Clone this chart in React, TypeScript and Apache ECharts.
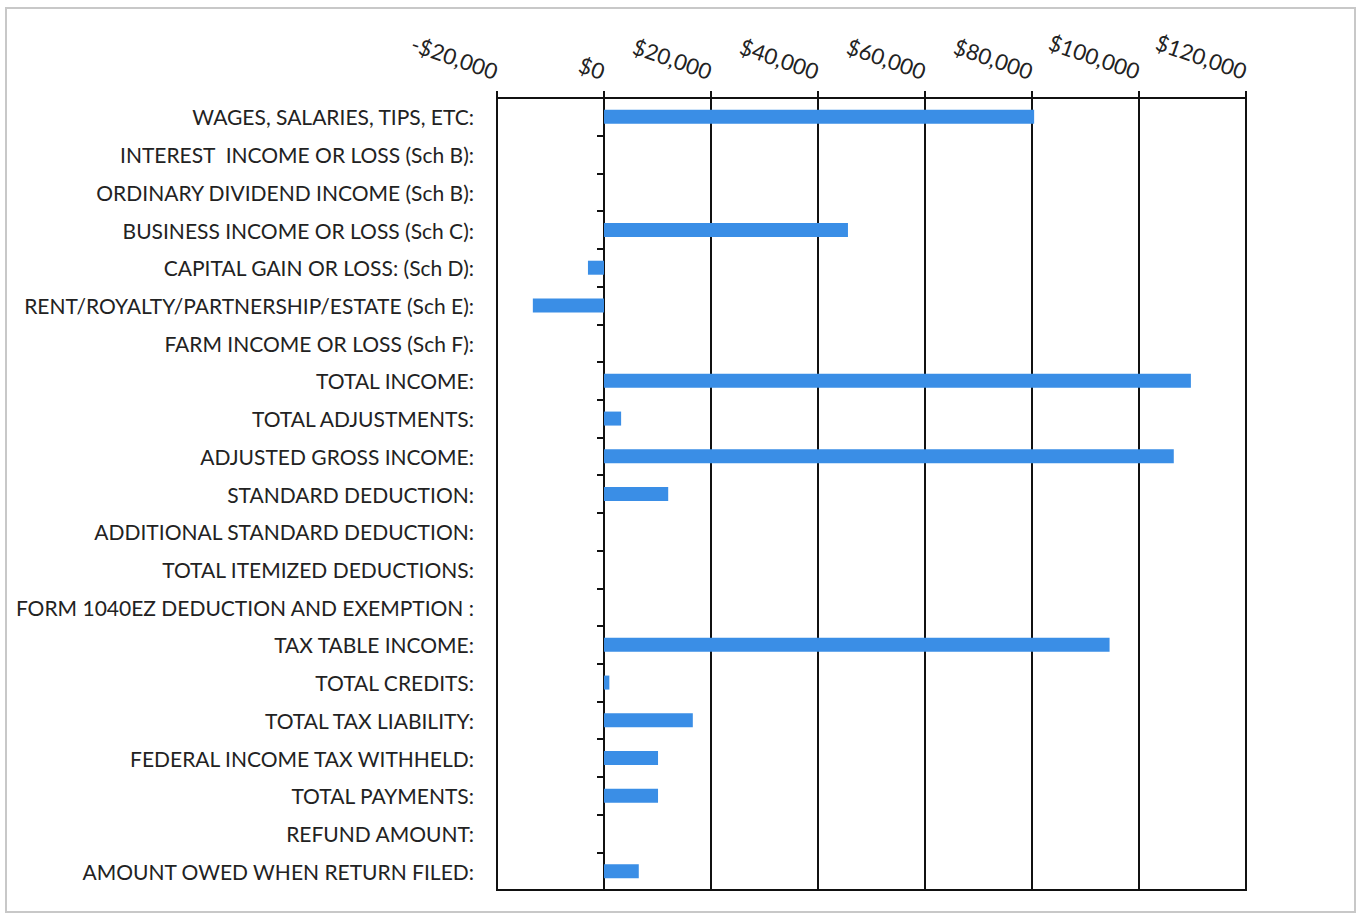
import React, { useEffect, useRef } from "react";
import * as echarts from "echarts";

const categories = [
  "WAGES, SALARIES, TIPS, ETC:",
  "INTEREST  INCOME OR LOSS (Sch B):",
  "ORDINARY DIVIDEND INCOME (Sch B):",
  "BUSINESS INCOME OR LOSS (Sch C):",
  "CAPITAL GAIN OR LOSS: (Sch D):",
  "RENT/ROYALTY/PARTNERSHIP/ESTATE (Sch E):",
  "FARM INCOME OR LOSS (Sch F):",
  "TOTAL INCOME:",
  "TOTAL ADJUSTMENTS:",
  "ADJUSTED GROSS INCOME:",
  "STANDARD DEDUCTION:",
  "ADDITIONAL STANDARD DEDUCTION:",
  "TOTAL ITEMIZED DEDUCTIONS:",
  "FORM 1040EZ DEDUCTION AND EXEMPTION :",
  "TAX TABLE INCOME:",
  "TOTAL CREDITS:",
  "TOTAL TAX LIABILITY:",
  "FEDERAL INCOME TAX WITHHELD:",
  "TOTAL PAYMENTS:",
  "REFUND AMOUNT:",
  "AMOUNT OWED WHEN RETURN FILED:",
];

const values = [
  80400, 0, 0, 45600, -3000, -13300, 0, 109700, 3200, 106500, 12000, 0, 0, 0,
  94500, 1000, 16600, 10100, 10100, 0, 6500,
];

const xMin = -20000;
const xMax = 120000;
const xInterval = 20000;

function fmt(v: number): string {
  const s = Math.abs(v).toLocaleString("en-US");
  return (v < 0 ? "-$" : "$") + s;
}

export default function App() {
  const ref = useRef<HTMLDivElement>(null);
  useEffect(() => {
    if (!ref.current) return;
    const chart = echarts.init(ref.current, undefined, { renderer: "svg" });
    const font = "Lato, 'Open Sans', sans-serif";
    chart.setOption({
      animation: false,
      backgroundColor: "transparent",
      grid: {
        left: 497,
        right: 114,
        top: 98,
        bottom: 27,
        show: true,
        borderColor: "#111111",
        borderWidth: 2,
        backgroundColor: "transparent",
      },
      xAxis: {
        type: "value",
        position: "top",
        min: xMin,
        max: xMax,
        interval: xInterval,
        axisLine: { show: true, lineStyle: { color: "#111111", width: 2 } },
        axisTick: { show: true, inside: false, length: 7, lineStyle: { color: "#111111", width: 2 } },
        splitLine: { show: true, lineStyle: { color: "#111111", width: 2 } },
        axisLabel: {
          rotate: 19,
          formatter: (v: number) => fmt(v),
          fontFamily: font,
          fontSize: 22,
          color: "#222222",
          margin: 26,
        },
      },
      yAxis: [
        {
          type: "category",
          data: categories,
          inverse: true,
          position: "left",
          axisLine: { show: false, onZero: false },
          axisTick: { show: false },
          axisLabel: {
            fontFamily: font,
            fontSize: 21,
            color: "#222222",
            margin: 23,
          },
        },
        {
          type: "category",
          data: categories,
          inverse: true,
          position: "left",
          axisLine: { show: true, onZero: true, lineStyle: { color: "#111111", width: 2 } },
          axisTick: { show: true, inside: false, length: 7, lineStyle: { color: "#111111", width: 2 } },
          axisLabel: { show: false },
        },
      ],
      series: [
        {
          type: "bar",
          data: values,
          yAxisIndex: 0,
          barWidth: 14,
          itemStyle: { color: "#3a8ee6" },
        },
      ],
    });
    return () => chart.dispose();
  }, []);
  return (
    <div
      style={{
        position: "fixed",
        left: 0,
        top: 0,
        width: 1360,
        height: 917,
        background: "#fff",
      }}
    >
      <div
        style={{
          position: "absolute",
          left: 5,
          top: 7,
          width: 1351,
          height: 906,
          border: "2px solid #c8c8c8",
          boxSizing: "border-box",
        }}
      />
      <div ref={ref} style={{ position: "absolute", left: 0, top: 0, width: 1360, height: 917 }} />
    </div>
  );
}
